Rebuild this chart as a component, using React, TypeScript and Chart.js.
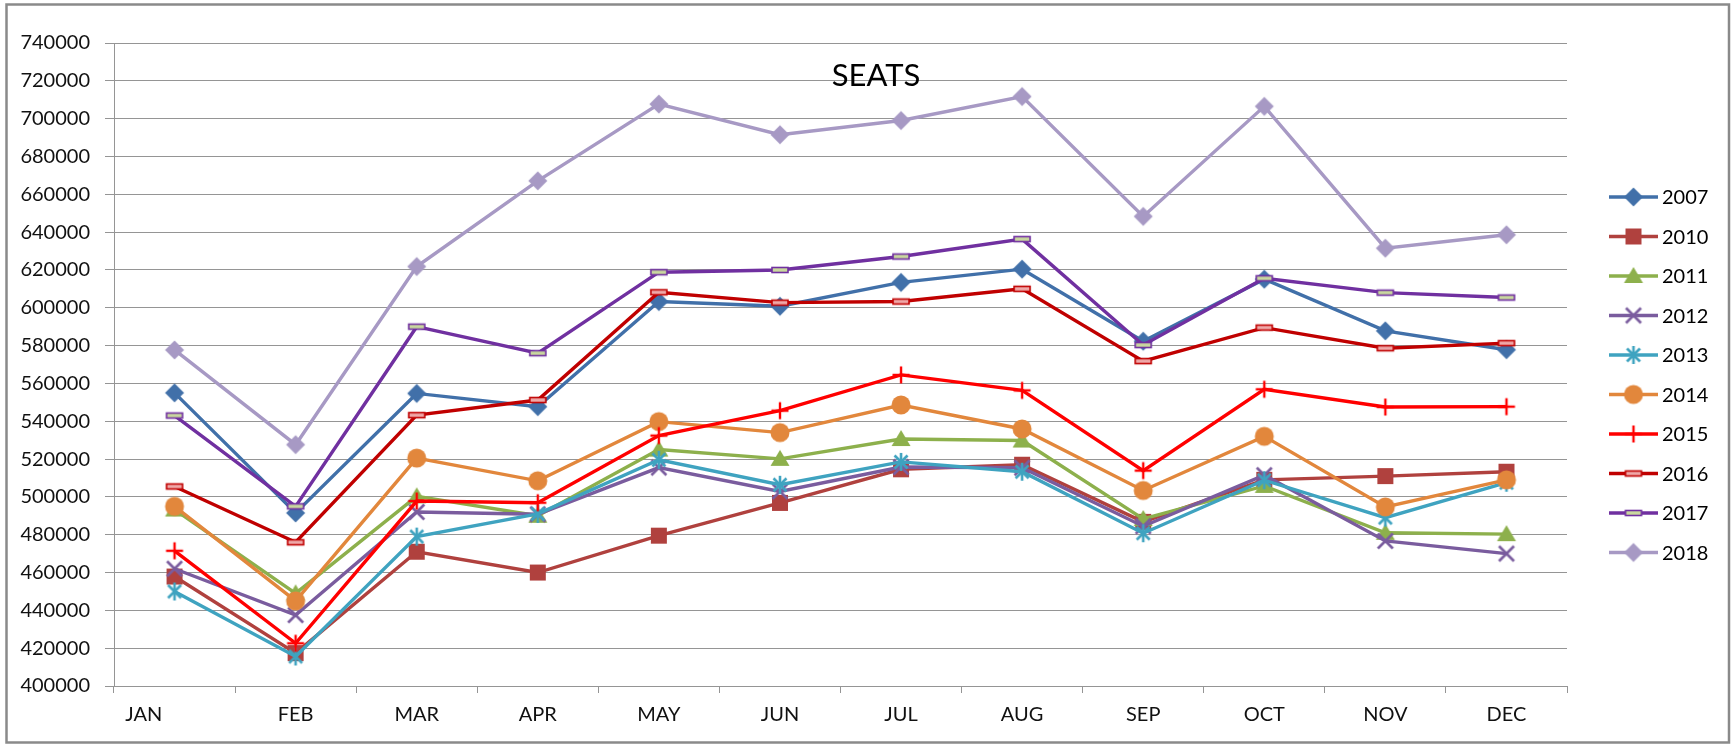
import { useEffect, useRef } from 'react';
import { Chart, registerables } from 'chart.js';

Chart.register(...registerables);

// ---- data -------------------------------------------------------------
const MONTHS = ['JAN            ', 'FEB', 'MAR', 'APR', 'MAY', 'JUN', 'JUL', 'AUG', 'SEP', 'OCT', 'NOV', 'DEC'];
const YEARS = ['2007', '2010', '2011', '2012', '2013', '2014', '2015', '2016', '2017', '2018'];

const SEATS_2007 = [555000, 491500, 554700, 547700, 603300, 600800, 613400, 620400, 582300, 615100, 587800, 577800];
const SEATS_2010 = [457900, 417400, 471000, 460000, 479500, 496800, 514600, 517000, 486800, 509000, 511000, 513300];
const SEATS_2011 = [493300, 449000, 500300, 490000, 525000, 520100, 530600, 529800, 488300, 505800, 481000, 480300];
const SEATS_2012 = [462000, 437500, 492000, 490800, 515500, 502900, 515800, 515400, 484500, 511500, 476700, 470000];
const SEATS_2013 = [450000, 415600, 479000, 491000, 519600, 506400, 518500, 513300, 480800, 508800, 489000, 507500];
const SEATS_2014 = [495000, 445000, 520500, 508500, 539800, 534000, 548600, 535900, 503400, 532000, 494700, 509000];
const SEATS_2015 = [471500, 422600, 497800, 496900, 532400, 545600, 564500, 556300, 513900, 556900, 547500, 547700];
const SEATS_2016 = [505500, 476000, 543200, 551200, 608200, 602700, 603300, 610000, 571800, 589500, 578600, 581300];
const SEATS_2017 = [543000, 495000, 590000, 576000, 618800, 620000, 627100, 636300, 580300, 615600, 608000, 605400];
const SEATS_2018 = [577700, 527600, 621800, 667100, 707700, 691500, 699000, 711700, 648300, 706500, 631500, 638600];

const SERIES = [SEATS_2007, SEATS_2010, SEATS_2011, SEATS_2012, SEATS_2013, SEATS_2014, SEATS_2015, SEATS_2016, SEATS_2017, SEATS_2018];

const COLORS = ['#4170A9', '#B0413E', '#8DB04C', '#7A5C9E', '#3FA3C0', '#E2873C', '#FF0000', '#C00000', '#7030A0', '#A799C4'];
const MARKERS = ['diamond', 'square', 'triangle', 'x', 'asterisk', 'circle', 'plus', 'dash', 'dash', 'diamond'];
const MARKER_INNER = ['', '', '', '', '', '', '', '#EFA9A9', '#C9D89E', ''];

const Y_MIN = 400000;
const Y_MAX = 740000;
const Y_STEP = 20000;
const TITLE = 'SEATS';

const FONT = 'Lato, "Open Sans", "Liberation Sans", sans-serif';
const GRID = '#959595';

// ---- marker images ------------------------------------------------------
function makeMarker(kind: string, color: string, inner: string): HTMLCanvasElement {
  const size = 26;
  const c = document.createElement('canvas');
  c.width = size;
  c.height = size;
  const ctx = c.getContext('2d') as CanvasRenderingContext2D;
  const m = size / 2;
  ctx.fillStyle = color;
  ctx.strokeStyle = color;
  ctx.lineCap = 'butt';
  const line = (x1: number, y1: number, x2: number, y2: number) => {
    ctx.beginPath();
    ctx.moveTo(x1, y1);
    ctx.lineTo(x2, y2);
    ctx.stroke();
  };
  switch (kind) {
    case 'diamond':
      ctx.beginPath();
      ctx.moveTo(m, m - 9.5);
      ctx.lineTo(m + 9.5, m);
      ctx.lineTo(m, m + 9.5);
      ctx.lineTo(m - 9.5, m);
      ctx.closePath();
      ctx.fill();
      break;
    case 'square':
      ctx.fillRect(m - 8, m - 8, 16, 16);
      break;
    case 'triangle':
      ctx.beginPath();
      ctx.moveTo(m, m - 9);
      ctx.lineTo(m + 9.5, m + 7);
      ctx.lineTo(m - 9.5, m + 7);
      ctx.closePath();
      ctx.fill();
      break;
    case 'x':
      ctx.lineWidth = 2.6;
      line(m - 7.5, m - 7.5, m + 7.5, m + 7.5);
      line(m + 7.5, m - 7.5, m - 7.5, m + 7.5);
      break;
    case 'asterisk':
      ctx.lineWidth = 2.6;
      line(m - 6.5, m - 6.5, m + 6.5, m + 6.5);
      line(m + 6.5, m - 6.5, m - 6.5, m + 6.5);
      line(m, m - 9, m, m + 9);
      break;
    case 'circle':
      ctx.beginPath();
      ctx.arc(m, m, 9.5, 0, Math.PI * 2);
      ctx.fill();
      break;
    case 'plus':
      ctx.lineWidth = 2.4;
      line(m - 8.5, m, m + 8.5, m);
      line(m, m - 8.5, m, m + 8.5);
      break;
    case 'dash':
      ctx.fillStyle = inner;
      ctx.fillRect(m - 8, m - 2.5, 16, 5);
      ctx.lineWidth = 1.6;
      ctx.strokeRect(m - 8, m - 2.5, 16, 5);
      break;
  }
  return c;
}

// ---- frame, title, legend -----------------------------------------------
const decorPlugin = {
  id: 'decor',
  beforeDraw(chart: any) {
    const ctx = chart.ctx;
    ctx.save();
    ctx.fillStyle = '#ffffff';
    ctx.fillRect(0, 0, chart.width, chart.height);
    ctx.restore();
  },
  afterDraw(chart: any) {
    const ctx = chart.ctx as CanvasRenderingContext2D;
    const area = chart.chartArea;
    ctx.save();
    // outer frame
    ctx.strokeStyle = '#8a8a8a';
    ctx.lineWidth = 2.5;
    ctx.strokeRect(6.5, 4.5, chart.width - 11.5, chart.height - 6);
    // title
    ctx.fillStyle = '#000000';
    ctx.font = `31px ${FONT}`;
    ctx.textAlign = 'center';
    ctx.textBaseline = 'alphabetic';
    ctx.fillText(TITLE, 876, 86);
    // legend
    const x0 = area.right + 42;
    const lineLen = 49;
    const step = 39.5;
    const top = 197;
    ctx.font = `20px ${FONT}`;
    ctx.textAlign = 'left';
    chart.data.datasets.forEach((ds: any, i: number) => {
      const y = top + i * step;
      ctx.strokeStyle = ds.borderColor;
      ctx.lineWidth = 3.5;
      ctx.beginPath();
      ctx.moveTo(x0, y);
      ctx.lineTo(x0 + lineLen, y);
      ctx.stroke();
      const img = ds.pointStyle as HTMLCanvasElement;
      ctx.drawImage(img, x0 + lineLen / 2 - img.width / 2, y - img.height / 2);
      ctx.fillStyle = '#000000';
      ctx.fillText(ds.label, x0 + lineLen + 4, y + 7);
    });
    ctx.restore();
  },
};

export default function App() {
  const ref = useRef<HTMLCanvasElement | null>(null);

  useEffect(() => {
    if (!ref.current) return;
    const datasets = SERIES.map((values, i) => ({
      label: YEARS[i],
      data: values,
      borderColor: COLORS[i],
      backgroundColor: COLORS[i],
      borderWidth: 3.4,
      pointStyle: makeMarker(MARKERS[i], COLORS[i], MARKER_INNER[i]),
      pointRadius: 6,
      pointHoverRadius: 6,
      tension: 0,
      order: SERIES.length - i,
    }));

    const chart = new Chart(ref.current, {
      type: 'line',
      data: { labels: MONTHS, datasets },
      options: {
        animation: false,
        responsive: false,
        devicePixelRatio: 1,
        events: [],
        layout: { padding: { top: 43, right: 167, left: 0, bottom: 0 } },
        font: { family: FONT },
        plugins: {
          legend: { display: false },
          title: { display: false },
          tooltip: { enabled: false },
        },
        scales: {
          x: {
            type: 'category',
            offset: true,
            grid: {
              display: true,
              drawOnChartArea: false,
              drawTicks: true,
              tickLength: 7,
              color: GRID,
              offset: true,
            },
            border: { display: true, color: GRID, width: 1 },
            ticks: {
              font: { family: FONT, size: 20 },
              color: '#111111',
              padding: 10,
              maxRotation: 0,
              autoSkip: false,
            },
            afterFit: (s: any) => {
              s.height = 58;
            },
          },
          y: {
            min: Y_MIN,
            max: Y_MAX,
            grid: { color: GRID, tickLength: 9, drawTicks: true },
            border: { display: true, color: GRID, width: 1 },
            ticks: {
              stepSize: Y_STEP,
              font: { family: FONT, size: 20 },
              color: '#111111',
              padding: 15,
              callback: (v: any) => String(v),
            },
            afterFit: (s: any) => {
              s.width = 114;
            },
          },
        },
      } as any,
      plugins: [decorPlugin],
    });
    return () => chart.destroy();
  }, []);

  return (
    <div style={{ position: 'fixed', left: 0, top: 0, width: 1734, height: 744, background: '#fff' }}>
      <canvas ref={ref} width={1734} height={744} style={{ display: 'block' }} />
    </div>
  );
}
